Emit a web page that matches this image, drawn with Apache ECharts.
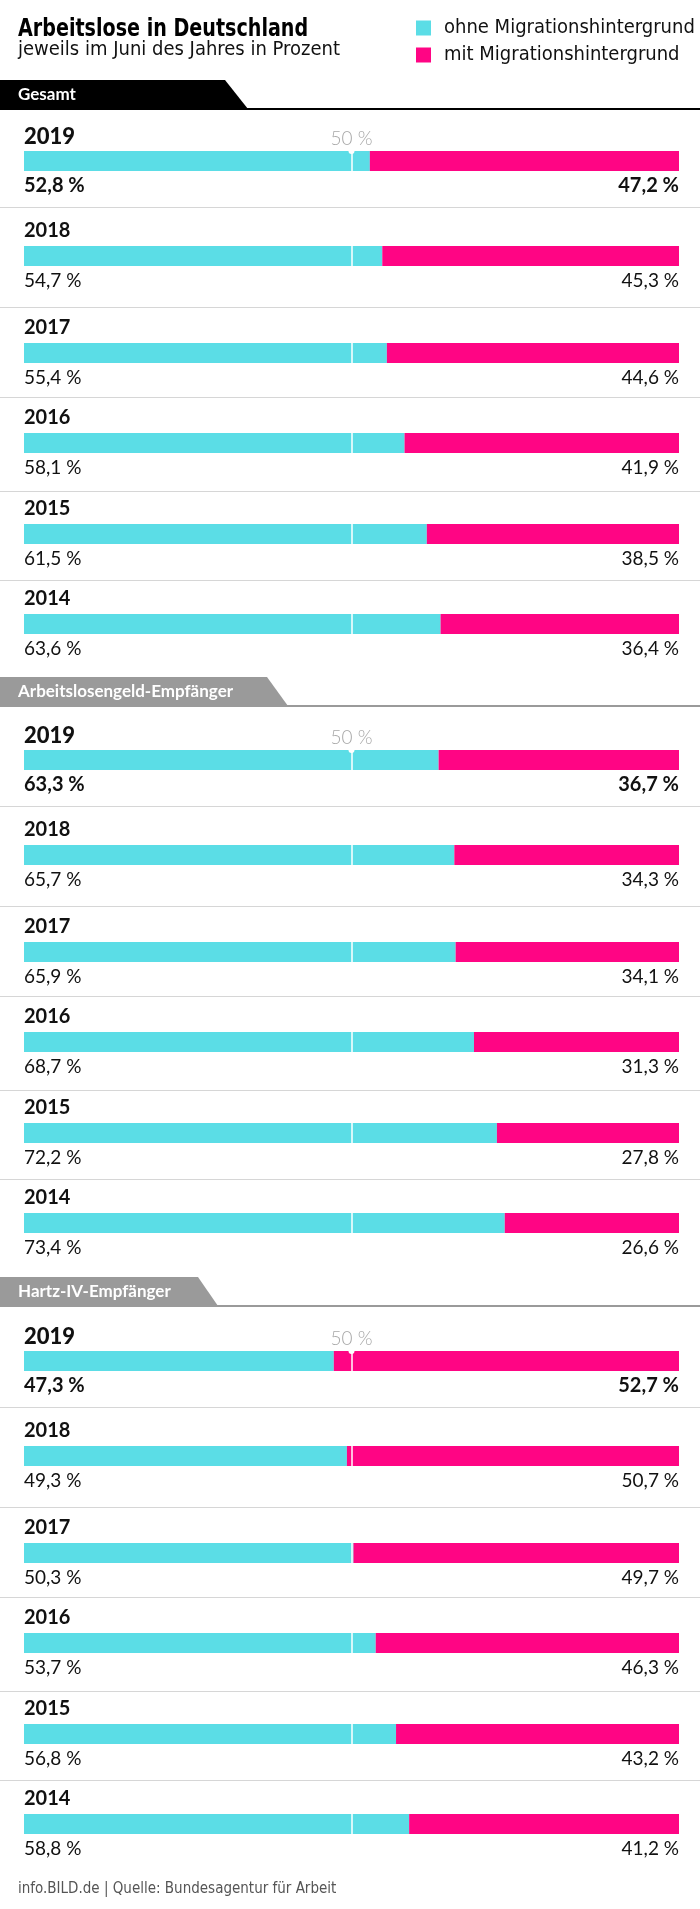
<!DOCTYPE html>
<html><head><meta charset="utf-8">
<script src="https://cdn.jsdelivr.net/npm/echarts@6/dist/echarts.min.js"></script>
<style>html,body{margin:0;padding:0;background:#fff}#c{width:700px;height:1909px}</style>
</head><body><div id="c"></div>
<script>
// ---- data ----
const sections = ['Gesamt', 'Arbeitslosengeld-Empfänger', 'Hartz-IV-Empfänger'];
const years = ['2019', '2018', '2017', '2016', '2015', '2014'];
const ohneGesamt = [52.8, 54.7, 55.4, 58.1, 61.5, 63.6];
const mitGesamt  = [47.2, 45.3, 44.6, 41.9, 38.5, 36.4];
const ohneALG    = [63.3, 65.7, 65.9, 68.7, 72.2, 73.4];
const mitALG     = [36.7, 34.3, 34.1, 31.3, 27.8, 26.6];
const ohneHartz  = [47.3, 49.3, 50.3, 53.7, 56.8, 58.8];
const mitHartz   = [52.7, 50.7, 49.7, 46.3, 43.2, 41.2];
const seriesNames = ['ohne Migrationshintergrund', 'mit Migrationshintergrund'];
const midValue = 50;
const midLabel = '50 %';
const titleText = 'Arbeitslose in Deutschland';
const subtitleText = 'jeweils im Juni des Jahres in Prozent';
const footerText = 'info.BILD.de | Quelle: Bundesagentur für Arbeit';

// ---- layout ----
const CYAN = '#5BDDE6', MAGENTA = '#FF0584';
const NUM_FONT = 'Lato, "Open Sans", sans-serif';
const COND_FONT = '"Liberation Sans Narrow", "DejaVu Sans Condensed", Roboto, sans-serif';
const sectionOffset = [0, 599, 1200];
const rowTop = [151, 246, 343, 433, 524, 614];
const sepY = [207, 307, 397, 491, 580];
const headerTop = [80, 677, 1277], HEADER_H = 29;
const headerShape = [[225, 248], [267, 288], [198, 218]];
const headerFill = ['#000000', '#9a9a9a', '#9a9a9a'];
const BAR_L = 24, BAR_R = 679, BAR_H = 20;

const ohneAll = [ohneGesamt, ohneALG, ohneHartz];
const mitAll = [mitGesamt, mitALG, mitHartz];
const fmt = v => v.toFixed(1).replace('.', ',') + ' %';

const grids = [], xAxes = [], yAxes = [], series = [], graphics = [];

sections.forEach((sec, s) => {
  const ht = headerTop[s];
  graphics.push({type: 'polygon', shape: {points: [[0, ht], [headerShape[s][0], ht], [headerShape[s][1], ht + HEADER_H], [0, ht + HEADER_H]]}, style: {fill: headerFill[s]}});
  graphics.push({type: 'line', shape: {x1: 0, y1: ht + HEADER_H, x2: 700, y2: ht + HEADER_H}, style: {stroke: headerFill[s], lineWidth: 2}});
  graphics.push({type: 'text', x: 18, y: ht + HEADER_H / 2, style: {text: sec, fill: '#fff', font: 'bold 17px ' + NUM_FONT, verticalAlign: 'middle', align: 'left'}});
  sepY.forEach(y => {
    const yy = sectionOffset[s] + y + 0.5;
    graphics.push({type: 'line', shape: {x1: 0, y1: yy, x2: 700, y2: yy}, style: {stroke: '#d6d6d6', lineWidth: 1}});
  });
  years.forEach((yr, r) => {
    const i = grids.length;
    const first = r === 0;
    const top = sectionOffset[s] + rowTop[r];
    grids.push({left: BAR_L, width: BAR_R - BAR_L, top: top, height: BAR_H});
    xAxes.push({gridIndex: i, type: 'value', min: 0, max: 100, show: false});
    yAxes.push({gridIndex: i, type: 'category', data: [yr], show: false});
    const valStyle = {color: '#111', fontFamily: NUM_FONT, fontSize: first ? 20 : 19,
      fontWeight: first ? 'bold' : 'normal'};
    series.push({type: 'bar', name: seriesNames[0], xAxisIndex: i, yAxisIndex: i, stack: 'row' + i,
      data: [ohneAll[s][r]], barWidth: BAR_H, itemStyle: {color: CYAN},
      label: {show: true, position: [0, '50%'], align: 'left', verticalAlign: 'middle',
        formatter: p => '{y|' + yr + '}\n{g| }\n{v|' + fmt(p.value) + '}',
        rich: {
          y: {color: '#111', fontFamily: NUM_FONT, fontSize: first ? 22 : 20,
              fontWeight: first ? 900 : 'bold', lineHeight: 20},
          g: {fontSize: 10, lineHeight: first ? 29 : 30},
          v: Object.assign({lineHeight: 20}, valStyle)
        }}});
    series.push({type: 'bar', name: seriesNames[1], xAxisIndex: i, yAxisIndex: i, stack: 'row' + i,
      data: [mitAll[s][r]], barWidth: BAR_H, itemStyle: {color: MAGENTA},
      label: Object.assign({show: true, position: ['100%', first ? 34.5 : 35], align: 'right',
        verticalAlign: 'middle', formatter: p => fmt(p.value)}, valStyle),
      markLine: {silent: true, animation: false, z: 10,
        symbol: first ? ['none', 'circle'] : ['none', 'none'], symbolSize: 6,
        itemStyle: {color: '#fff'},
        lineStyle: {color: '#fff', width: 1.5, type: 'solid'},
        label: first ? {show: true, position: 'end', formatter: midLabel, color: '#a8a8a8',
          fontFamily: NUM_FONT, fontSize: 19, fontWeight: 300, distance: 3} : {show: false},
        data: [{xAxis: midValue}]}});
  });
});

graphics.push({type: 'text', x: 18, y: 29, scaleX: 0.85, originX: 0, style: {text: titleText, fill: '#000', font: 'bold 25px ' + COND_FONT, verticalAlign: 'middle'}});
graphics.push({type: 'text', x: 18, y: 50, style: {text: subtitleText, fill: '#111', font: '20px ' + COND_FONT, verticalAlign: 'middle'}});
graphics.push({type: 'text', x: 18, y: 1889, style: {text: footerText, fill: '#555', font: '15px ' + COND_FONT, verticalAlign: 'middle'}});

const chart = echarts.init(document.getElementById('c'), null, {renderer: 'canvas'});
chart.setOption({
  backgroundColor: '#fff',
  animation: false,
  legend: {left: 416, top: 18, orient: 'vertical', icon: 'rect', itemWidth: 15, itemHeight: 15,
    itemGap: 7, selectedMode: false, padding: 0, data: seriesNames,
    textStyle: {fontFamily: COND_FONT, fontSize: 20, lineHeight: 20, color: '#111', padding: [0, 0, 0, 8]}},
  grid: grids, xAxis: xAxes, yAxis: yAxes, series: series,
  graphic: graphics
});
</script></body></html>
